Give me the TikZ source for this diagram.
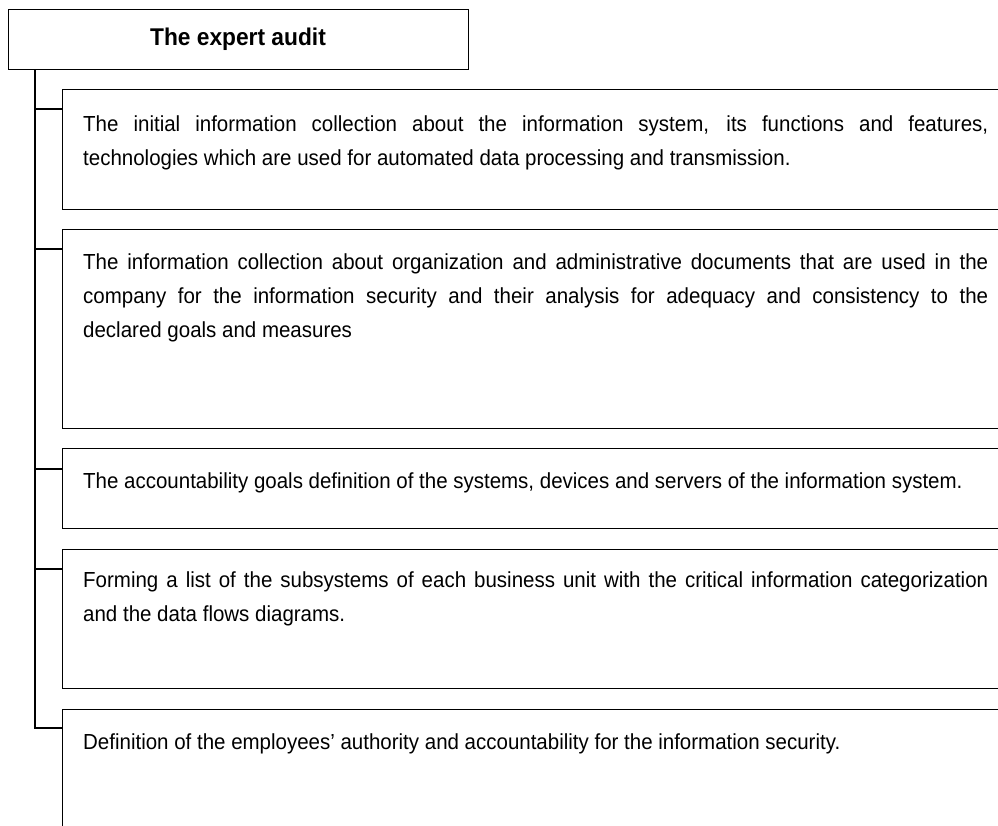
\documentclass[tikz,border=0pt]{standalone}
\usepackage{fontspec}
\setmainfont{Liberation Sans}[FakeStretch=0.94]
\usetikzlibrary{calc}
\tikzset{
  frame/.style={draw=black, line width=1.2pt, rectangle, inner sep=0pt, anchor=north west},
  link/.style={draw=black, line width=1.2pt},
  itemtext/.style={anchor=base west, inner sep=0pt, text width=905pt, align=justify,
    font=\fontsize{21.8}{34}\selectfont},
}
\begin{document}
\begin{tikzpicture}[x=1pt,y=-1pt]
\clip (0,0) rectangle (998,825);
\fill[white] (0,0) rectangle (998,825);
% title
\node[frame, minimum width=460pt, minimum height=60pt] (title) at (8,9) {};
\node[anchor=base, inner sep=0pt, font=\fontsize{24.2}{28}\selectfont\bfseries] (titletext) at (238,45.5) {The expert audit};
% boxes
\node[frame, minimum width=960pt, minimum height=120pt] (b1) at (62,89) {};
\node[frame, minimum width=960pt, minimum height=199pt] (b2) at (62,229) {};
\node[frame, minimum width=960pt, minimum height=80pt] (b3) at (62,448) {};
\node[frame, minimum width=960pt, minimum height=139pt] (b4) at (62,549) {};
\node[frame, minimum width=960pt, minimum height=140pt] (b5) at (62,709) {};
% texts
\node[itemtext] (t1) at (83,131) {The initial information collection about the information system, its functions and features,\linebreak technologies which are used for automated data processing and transmission.};
\node[itemtext] (t2) at (83,269.5) {The information collection about organization and administrative documents that are used in the\linebreak company for the information security and their analysis for adequacy and consistency to the\linebreak declared goals and measures};
\node[itemtext] (t3) at (83,488.5) {The accountability goals definition of the systems, devices and servers of the information system.};
\node[itemtext] (t4) at (83,587) {Forming a list of the subsystems of each business unit with the critical information categorization\linebreak and the data flows diagrams.};
\node[itemtext] (t5) at (83,749.5) {Definition of the employees’ authority and accountability for the information security.};
% trunk and tees
\coordinate (trunk) at ($(title.south west)+(27,0)$);
\draw[link] (trunk) |- ($(b5.north west)+(0,19)$);
\draw[link] ($(trunk|-b1.north west)+(0,20)$) -- ($(b1.north west)+(0,20)$);
\draw[link] ($(trunk|-b2.north west)+(0,20)$) -- ($(b2.north west)+(0,20)$);
\draw[link] ($(trunk|-b3.north west)+(0,21)$) -- ($(b3.north west)+(0,21)$);
\draw[link] ($(trunk|-b4.north west)+(0,20)$) -- ($(b4.north west)+(0,20)$);
\end{tikzpicture}
\end{document}
